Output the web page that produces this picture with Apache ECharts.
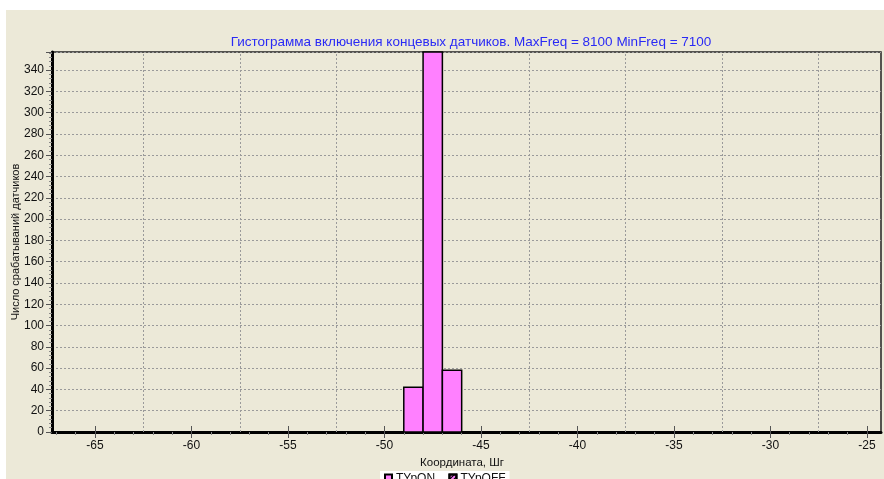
<!DOCTYPE html>
<html><head><meta charset="utf-8">
<script src="https://cdn.jsdelivr.net/npm/echarts@6/dist/echarts.min.js"></script>
<style>html,body{margin:0;padding:0;background:#fff}#c{width:884px;height:479px}</style>
</head><body><div id="c"></div>
<script>
// ---- data ----
const binStarts = [-49, -48, -47];
const binEnds = [-48, -47, -46];
const counts = [42, 420, 58];
const xMajorTicks = [-65, -60, -55, -50, -45, -40, -35, -30, -25];
const xMinorTicks = [-67, -66, -64, -63, -62, -61, -59, -58, -57, -56, -54, -53, -52, -51, -49, -48, -47, -46, -44, -43, -42, -41, -39, -38, -37, -36, -34, -33, -32, -31, -29, -28, -27, -26];
const xGridLines = [-62.5, -57.5, -52.5, -47.5, -42.5, -37.5, -32.5, -27.5];
const xMin = -67.23, xMax = -24.27;
const yMin = 0, yMax = 357, yStep = 20;
const titleText = 'Гистограмма включения концевых датчиков. MaxFreq = 8100 MinFreq = 7100';
const xName = 'Координата, Шг';
const yName = 'Число срабатываний датчиков';
const seriesNames = ['TYpON,', 'TYpOFF'];

const histData = binStarts.map((s, i) => [s, binEnds[i], counts[i]]);

const font = 'Liberation Sans, Arial, sans-serif';
const chart = echarts.init(document.getElementById('c'), null, {renderer: 'canvas'});

const baseX = {type: 'value', min: xMin, max: xMax, gridIndex: 0, position: 'bottom',
  axisLine: {show: false, onZero: false}, splitLine: {show: false}, axisLabel: {show: false}, axisTick: {show: false}};

chart.setOption({
  backgroundColor: '#ffffff',
  animation: false,
  textStyle: {fontFamily: font},
  graphic: [{type: 'rect', left: 6, top: 10, shape: {width: 878, height: 469}, style: {fill: '#ECE9D8'}, z: -10, silent: true}],
  title: [
    {text: titleText, left: 466, top: 30, textAlign: 'center',
     textStyle: {color: '#2a2af5', fontSize: 13.5, fontWeight: 'normal', fontFamily: font}},
    {text: xName, left: 457, top: 452, textAlign: 'center',
     textStyle: {color: '#111', fontSize: 11.5, fontWeight: 'normal', fontFamily: font}}
  ],
  legend: {
    data: seriesNames.map(n => ({name: n, icon: 'rect'})),
    left: 380, top: 471, backgroundColor: '#ffffff', padding: [2, 4, 2, 4],
    itemWidth: 7, itemHeight: 9, itemGap: 10, selectedMode: false,
    textStyle: {fontSize: 12, color: '#111', fontFamily: font, padding: [0, 0, 0, -1]}
  },
  grid: {left: 52, top: 52, right: 3, bottom: 47, show: true, backgroundColor: 'transparent',
    borderColor: '#222', borderWidth: 1.5, containLabel: false, outerBoundsMode: 'none'},
  xAxis: [
    Object.assign({}, baseX, {
      axisLine: {show: true, onZero: false, lineStyle: {color: '#000', width: 3}},
      axisTick: {show: true, customValues: xMajorTicks, length: 6, lineStyle: {color: '#555', width: 1}},
      axisLabel: {show: true, customValues: xMajorTicks, fontSize: 12, color: '#111', margin: 8, fontFamily: font}
    }),
    Object.assign({}, baseX, {
      axisTick: {show: true, inside: true, customValues: xMajorTicks, length: 6, lineStyle: {color: '#555', width: 1}}
    }),
    Object.assign({}, baseX, {
      axisTick: {show: true, customValues: xMinorTicks, length: 3, lineStyle: {color: '#888', width: 1}}
    })
  ],
  yAxis: {
    type: 'value', min: yMin, max: yMax, interval: yStep,
    name: yName, nameLocation: 'middle', nameGap: 31, nameRotate: 90, nameMoveOverlap: false,
    nameTextStyle: {fontSize: 11, color: '#111', fontFamily: font},
    axisLine: {show: true, lineStyle: {color: '#000', width: 3}},
    axisTick: {show: true, length: 6, lineStyle: {color: '#555'}},
    minorTick: {show: true, splitNumber: 5, length: 3, lineStyle: {color: '#888'}},
    axisLabel: {fontSize: 12, color: '#111', margin: 8, fontFamily: font, showMaxLabel: false},
    splitLine: {show: true, lineStyle: {color: '#9a9a9a', type: [2, 2], width: 1}}
  },
  series: [
    {
      name: 'grid', type: 'line', data: [], xAxisIndex: 0, silent: true, z: 1,
      markLine: {silent: true, symbol: 'none', label: {show: false}, animation: false,
        lineStyle: {color: '#9a9a9a', type: [2, 2], width: 1},
        data: xGridLines.map(v => ({xAxis: v}))}
    },
    {
      name: seriesNames[0], type: 'custom', xAxisIndex: 0, z: 5,
      itemStyle: {color: '#FF80FF', borderColor: '#000', borderWidth: 1},
      encode: {x: [0, 1], y: 2},
      data: histData,
      renderItem: function (params, api) {
        const p0 = api.coord([api.value(0), api.value(2)]);
        const p1 = api.coord([api.value(1), 0]);
        const cs = params.coordSys;
        const shape = echarts.graphic.clipRectByRect(
          {x: p0[0], y: p0[1], width: p1[0] - p0[0], height: p1[1] - p0[1]},
          {x: cs.x, y: cs.y, width: cs.width, height: cs.height});
        return shape && {type: 'rect', shape: shape, style: {fill: '#FF80FF', stroke: '#000', lineWidth: 1.5}};
      }
    },
    {
      name: seriesNames[1], type: 'custom', xAxisIndex: 0, data: [],
      itemStyle: {color: '#FF80FF', borderColor: '#000', borderWidth: 1,
        decal: {symbol: 'rect', color: '#000', dashArrayX: [1, 0], dashArrayY: [1, 2], rotation: -Math.PI / 4, symbolSize: 1}},
      renderItem: function () { return null; }
    }
  ]
});
</script>
</body></html>
